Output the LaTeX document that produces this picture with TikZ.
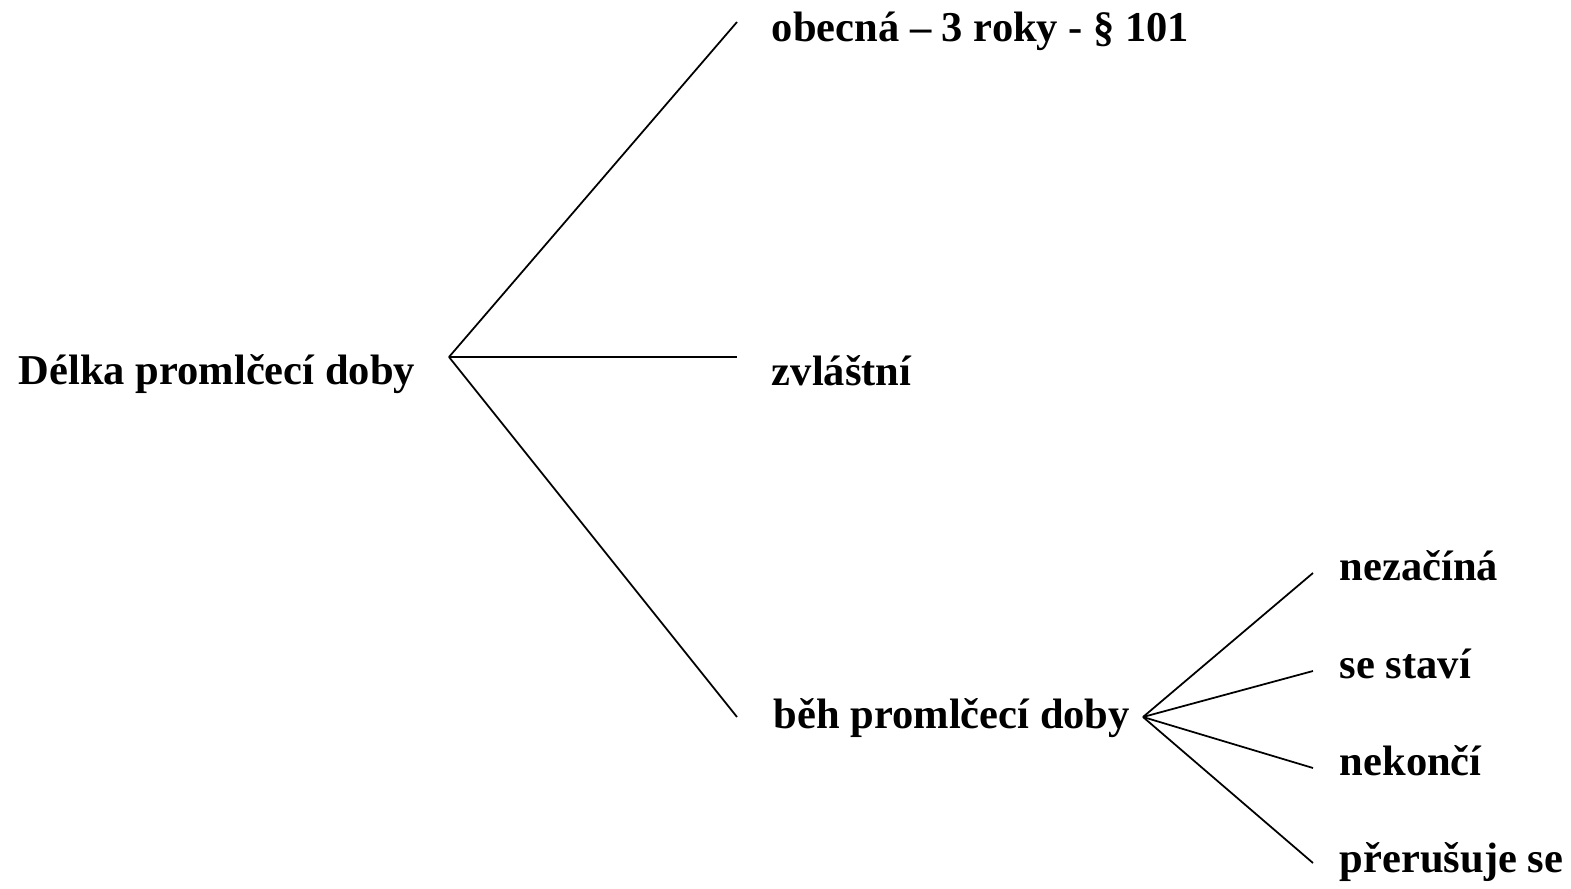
\documentclass[tikz,border=0pt]{standalone}
\usepackage{fontspec}
\setmainfont{Liberation Serif}
\usetikzlibrary{positioning}
\def\leafx{26.26}

\begin{document}
\begin{tikzpicture}[line width=1pt]
    \tikzstyle{term}=[anchor=base west, inner sep=0pt, font=\bfseries\fontsize{24.2}{29}\selectfont]
    \useasboundingbox (0,0) rectangle (31.42,-17.78);

    % Draw the root and its fork point
    \node[term] (root) at (0.36,-7.68) {Délka promlčecí doby};
    \coordinate (R) at (8.98,-7.14);

    % Draw the first level
    \node[term] (obecna) at (15.42,-0.84) {obecná – 3 roky - § 101};
    \node[term] (zvlastni) at (15.42,-7.70) {zvláštní};
    \node[term] (beh) at (15.46,-14.56) {běh promlčecí doby};
    \coordinate (E-1) at (14.74,-0.44);
    \coordinate (E-2) at (14.74,-7.14);
    \coordinate (E-3) at (14.74,-14.34);

    % Draw the second level
    \coordinate (B) at (22.86,-14.34);
    \foreach \name / \y / \ty / \txt in {1/-11.46/-11.60/nezačíná, 2/-13.42/-13.56/se staví,
                                         3/-15.36/-15.50/nekončí, 4/-17.26/-17.44/přerušuje se}
    {
        \coordinate (L-\name) at (\leafx,\y);
        \node[term] (T-\name) at (26.78,\ty) {\txt};
    }

    % Connect the root with the first level
    \foreach \dest in {1,2,3}
        \draw (R) -- (E-\dest);

    % Connect the running period with the second level
    \foreach \dest in {1,2,3,4}
        \draw (B) -- (L-\dest);
\end{tikzpicture}
\end{document}
